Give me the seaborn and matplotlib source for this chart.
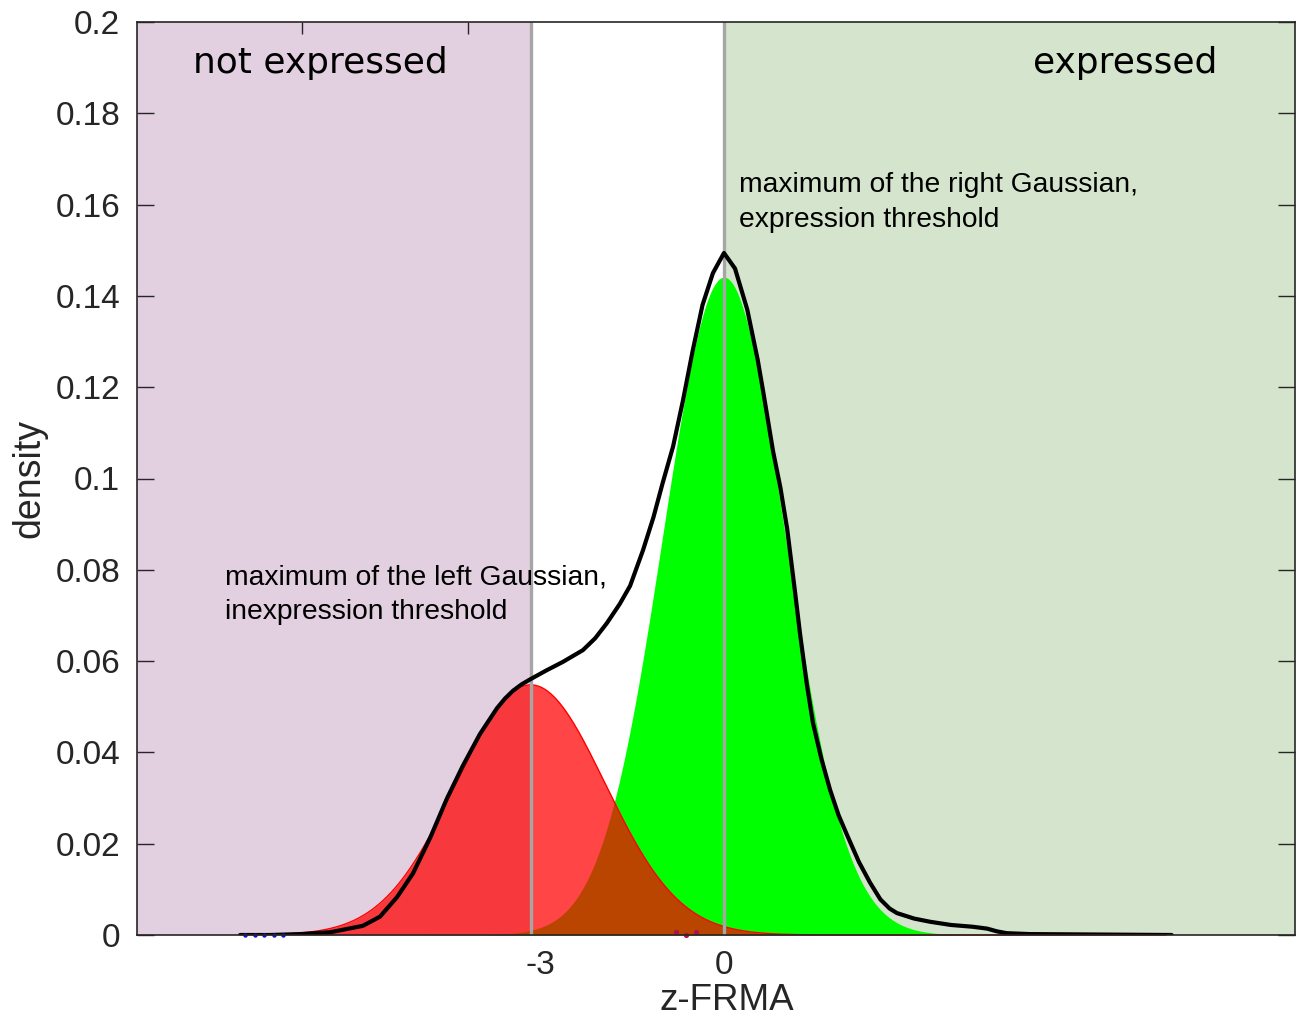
import numpy as np
import pandas as pd
import matplotlib
matplotlib.use("Agg")
import matplotlib.pyplot as plt
import seaborn as sns

# ---- data ----
density_x = [-7.89, -7.40, -6.91, -6.42, -5.89, -5.61, -5.33, -5.07, -4.79, -4.52,
             -4.26, -3.98, -3.70, -3.57, -3.44, -3.30, -3.16, -2.89, -2.63, -2.30, -2.10, -1.91,
             -1.70, -1.53, -1.32, -1.15, -1.00, -0.83, -0.67, -0.51, -0.35, -0.18,
             0.0, 0.18, 0.38, 0.55, 0.64, 0.80, 0.92, 1.03, 1.16, 1.24,
             1.35, 1.45, 1.59, 1.73, 1.87, 2.01, 2.20, 2.38, 2.55, 2.70,
             2.82, 3.10, 3.36, 3.70, 4.06, 4.29, 4.45, 4.61, 4.99, 6.13, 7.30]
density_y = [0.0, 0.0, 0.0002, 0.0006, 0.0020, 0.0040, 0.0083, 0.0135, 0.0213, 0.0298,
             0.0370, 0.0440, 0.0497, 0.0518, 0.0535, 0.0549, 0.0560, 0.0580, 0.0598, 0.0624, 0.0650, 0.0683,
             0.0725, 0.0765, 0.0843, 0.0915, 0.0990, 0.1070, 0.1170, 0.1280, 0.1380, 0.1450,
             0.1494, 0.1460, 0.1370, 0.1260, 0.1190, 0.1060, 0.0980, 0.0890, 0.0750, 0.0660,
             0.0550, 0.0465, 0.0385, 0.0318, 0.0262, 0.0218, 0.0160, 0.0115, 0.0078, 0.0058,
             0.0048, 0.0036, 0.0029, 0.0022, 0.0018, 0.0014, 0.0008, 0.0004, 0.0002, 0.0001, 0.0]

left_gauss = {"mean": -3.15, "sd": 1.21, "peak": 0.0548}
right_gauss = {"mean": 0.0, "sd": 1.0, "peak": 0.1441}
curve_range = [-7.89, 7.21]

blue_pts_x = [-7.81, -7.65, -7.50, -7.34, -7.19]
blue_pts_y = [0.0, 0.0, 0.0, 0.0, 0.0]
purple_pts_x = [-0.78, -0.62, -0.46]
purple_pts_y = [0.0007, 0.0, 0.0007]

xticks = [-3, 0]
xtick_labels = ["-3", "0"]
top_tick_positions = [-6.88, -4.17]
yticks = [0, 0.02, 0.04, 0.06, 0.08, 0.1, 0.12, 0.14, 0.16, 0.18, 0.2]
ytick_labels = ["0", "0.02", "0.04", "0.06", "0.08", "0.1", "0.12", "0.14", "0.16", "0.18", "0.2"]

# ---- plotting ----
sns.set_style("ticks")
plt.rcParams["font.family"] = ["Liberation Sans", "DejaVu Sans"]

fig = plt.figure(figsize=(12.96, 10.18), dpi=100)
ax = fig.add_axes([137/1296, 83/1018, (1295-137)/1296, (935-22)/1018])

xlim = (-9.57, 9.31)
ax.set_xlim(*xlim)
ax.set_ylim(0, 0.2)

# background regions
ax.axvspan(xlim[0], left_gauss["mean"], color="#e2cfdf", zorder=0, lw=0)
ax.axvspan(right_gauss["mean"], xlim[1], color="#d5e4cd", zorder=0, lw=0)

gx = np.linspace(curve_range[0], curve_range[1], 600)
def gauss(g):
    return g["peak"] * np.exp(-0.5 * ((gx - g["mean"]) / g["sd"]) ** 2)

ax.fill_between(gx, 0, gauss(right_gauss), color="#00ff00", lw=0, zorder=1)
ax.fill_between(gx, 0, gauss(left_gauss), color="#ff0000", alpha=0.73, lw=0, zorder=2)
ax.plot(gx, gauss(left_gauss), color="#ff0000", lw=1, zorder=2, clip_on=False)

df = pd.DataFrame({"x": density_x, "y": density_y})
sns.lineplot(data=df, x="x", y="y", color="black", lw=3, ax=ax, zorder=4, sort=False)

ax.scatter(blue_pts_x, blue_pts_y, s=10, color="#1010d0", zorder=5, clip_on=False, lw=0)
ax.scatter(purple_pts_x, purple_pts_y, s=14, color="#b0104a", zorder=3, clip_on=False, lw=0)

# threshold lines
ax.axvline(left_gauss["mean"], color="#a6a6a6", lw=2.4, zorder=3)
ax.axvline(right_gauss["mean"], color="#a6a6a6", lw=2.4, zorder=3)

# texts
ax.text(-8.66, 0.191, "not expressed", fontsize=25.9, family=["DejaVu Sans"],
        ha="left", va="center", color="black", zorder=6)
ax.text(8.05, 0.191, "expressed", fontsize=25.9, family=["DejaVu Sans"],
        ha="right", va="center", color="black", zorder=6)
ax.text(0.245, 0.1605, "maximum of the right Gaussian,\nexpression threshold",
        fontsize=20.3, ha="left", va="center", color="black", linespacing=1.45, zorder=6)
ax.text(-8.14, 0.0745, "maximum of the left Gaussian,\ninexpression threshold",
        fontsize=20.3, ha="left", va="center", color="black", linespacing=1.45, zorder=6)

ax.set_xticks(xticks)
ax.set_xticklabels(xtick_labels)
ax.set_yticks(yticks)
ax.set_yticklabels(ytick_labels)
ax.tick_params(axis="both", direction="in", length=12, width=1, colors="#262626",
               labelsize=24, labelcolor="#262626")
ax.tick_params(axis="y", right=True, pad=12)
ax.tick_params(axis="x", top=False, bottom=True, length=0, pad=11)

# short tick marks along the top edge, as seen in the reference
ax.vlines(top_tick_positions, 0.2 - 12 / 4565, 0.2, color="#262626", lw=1, zorder=7)

ax.set_xlabel("z-FRMA", fontsize=26.5, color="#262626")
ax.xaxis.label.set_va("baseline")
ax.xaxis.set_label_coords((727 - 137) / 1158, (935 - 1010) / 913)
ax.set_ylabel("density", fontsize=27, color="#262626", labelpad=6)

for s in ax.spines.values():
    s.set_color("#262626")
    s.set_linewidth(1.2)
    s.set_zorder(7)

fig.savefig("out.png", dpi=100)
